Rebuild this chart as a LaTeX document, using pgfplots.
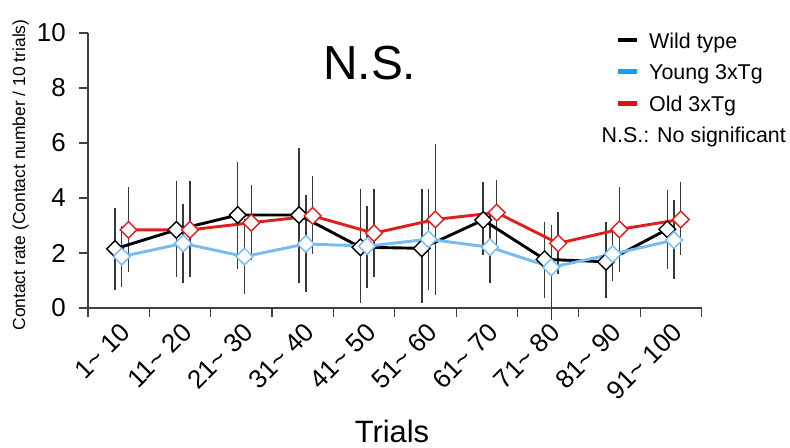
\documentclass[border=0pt]{standalone}
\usepackage{fontspec}
\setmainfont{Liberation Sans}
\usepackage{pgfplots}
\usepackage{pgfplotstable}
\pgfplotsset{compat=1.18}
\definecolor{wtcol}{HTML}{000000}
\definecolor{ycol}{HTML}{74BCF2}
\definecolor{ocol}{HTML}{E01E1E}
\definecolor{ylegcol}{HTML}{14A0EE}
\definecolor{olegcol}{HTML}{D81414}
\definecolor{errcol}{HTML}{383838}
\definecolor{axcol}{HTML}{404040}

% x = category index, y = mean, ep/em = error plus / minus
\pgfplotstableread{
x y ep em
0 2.15 1.48 1.49
1 2.84 1.79 1.72
2 3.38 1.94 1.96
3 3.38 2.42 2.47
4 2.21 2.10 2.04
5 2.17 2.16 2.00
6 3.20 1.39 1.27
7 1.77 1.37 1.40
8 1.68 1.45 1.33
9 2.86 1.43 1.43
}\wt
\pgfplotstableread{
x y ep em
0 1.87 1.10 1.09
1 2.35 1.42 1.43
2 1.87 1.36 1.36
3 2.33 1.78 1.75
4 2.25 1.47 1.53
5 2.50 1.82 1.85
6 2.21 1.29 1.29
7 1.48 1.54 1.92
8 1.96 0.97 0.97
9 2.47 1.45 1.43
}\young
\pgfplotstableread{
x y ep em
0 2.84 1.57 1.52
1 2.84 1.79 1.72
2 3.10 1.37 1.37
3 3.35 1.45 1.39
4 2.72 1.60 1.58
5 3.22 2.76 2.75
6 3.47 1.19 1.19
7 2.35 1.15 1.10
8 2.86 1.55 1.54
9 3.22 1.36 1.30
}\old

\begin{document}
\begin{tikzpicture}[x=1bp,y=1bp]
\path[use as bounding box] (0,0) rectangle (790,448);
\begin{axis}[
  at={(88bp,140bp)}, anchor=south west,
  scale only axis, width=613.6bp, height=275bp,
  xmin=-0.5, xmax=9.5, ymin=0, ymax=10,
  axis lines=left,
  axis line style={-, draw=axcol, line width=1.2bp},
  clip=false,
  xtick={-0.5,0.5,1.5,2.5,3.5,4.5,5.5,6.5,7.5,8.5,9.5},
  xticklabels={},
  extra x ticks={0,1,2,3,4,5,6,7,8,9},
  extra x tick labels={1\textasciitilde{} 10,11\textasciitilde{} 20,21\textasciitilde{} 30,31\textasciitilde{} 40,41\textasciitilde{} 50,51\textasciitilde{} 60,61\textasciitilde{} 70,71\textasciitilde{} 80,81\textasciitilde{} 90,91\textasciitilde{} 100},
  extra x tick style={major tick length=0pt, tick style={draw=none}},
  ytick={0,2,4,6,8,10},
  tick align=outside,
  major tick length=9bp,
  tick style={draw=axcol, line width=1.2bp},
  /pgf/number format/assume math mode=true,
  yticklabel style={font=\fontsize{26}{26}\selectfont, anchor=east, inner sep=0pt, xshift=-13bp},
  xticklabel style={font=\fontsize{26}{26}\selectfont, xshift=7bp, yshift=-20bp, rotate=45, anchor=east, inner sep=0pt},
]
% error bars (drawn first, behind lines)
\addplot[draw=none, forget plot, error bars/.cd, y dir=both, y explicit, error mark=none,
  error bar style={draw=errcol, line width=1.4bp}]
  table[x expr=\thisrow{x}-0.06, y=y, y error plus=ep, y error minus=em]{\wt};
\addplot[draw=none, forget plot, error bars/.cd, y dir=both, y explicit, error mark=none,
  error bar style={draw=errcol, line width=1.4bp}]
  table[x expr=\thisrow{x}+0.05, y=y, y error plus=ep, y error minus=em]{\young};
\addplot[draw=none, forget plot, error bars/.cd, y dir=both, y explicit, error mark=none,
  error bar style={draw=errcol, line width=1.4bp}]
  table[x expr=\thisrow{x}+0.16, y=y, y error plus=ep, y error minus=em]{\old};
% series
\addplot[wtcol, line width=2.9bp, mark=square*, mark size=5.9bp,
  mark options={rotate=45, fill=white, draw=wtcol, line width=1.4bp}]
  table[x expr=\thisrow{x}-0.06, y=y]{\wt};
\addplot[ycol, line width=2.9bp, mark=square*, mark size=5.9bp,
  mark options={rotate=45, fill=white, draw=ycol, line width=1.4bp}]
  table[x expr=\thisrow{x}+0.05, y=y]{\young};
\addplot[ocol, line width=2.9bp, mark=square*, mark size=5.9bp,
  mark options={rotate=45, fill=white, draw=ocol, line width=1.4bp}]
  table[x expr=\thisrow{x}+0.16, y=y]{\old};
\end{axis}
% axis titles
\node[rotate=90, anchor=base, inner sep=0pt, font=\fontsize{17.5}{17.5}\selectfont] at (25,273) {Contact rate (Contact number / 10 trials)};
\node[anchor=base, inner sep=0pt, font=\fontsize{31}{31}\selectfont] at (392,5.5) {Trials};
\node[anchor=base west, inner sep=0pt, font=\fontsize{48}{48}\selectfont] at (323,368) {N.S.};
% legend
\draw[line width=4.5bp, wtcol] (618.3,408) -- (636.7,408);
\draw[line width=4.5bp, ylegcol] (618.3,376.3) -- (636.7,376.3);
\draw[line width=4.5bp, olegcol] (618.3,344.7) -- (636.7,344.7);
\node[anchor=base west, inner sep=0pt, font=\fontsize{21.5}{21.5}\selectfont] at (649,399.7) {Wild type};
\node[anchor=base west, inner sep=0pt, font=\fontsize{21.5}{21.5}\selectfont] at (649,368) {Young 3xTg};
\node[anchor=base west, inner sep=0pt, font=\fontsize{21.5}{21.5}\selectfont] at (649,336.3) {Old 3xTg};
\node[anchor=base west, inner sep=0pt, font=\fontsize{21.5}{21.5}\selectfont] at (601.5,305.5) {N.S.: No significant};
\end{tikzpicture}
\end{document}
